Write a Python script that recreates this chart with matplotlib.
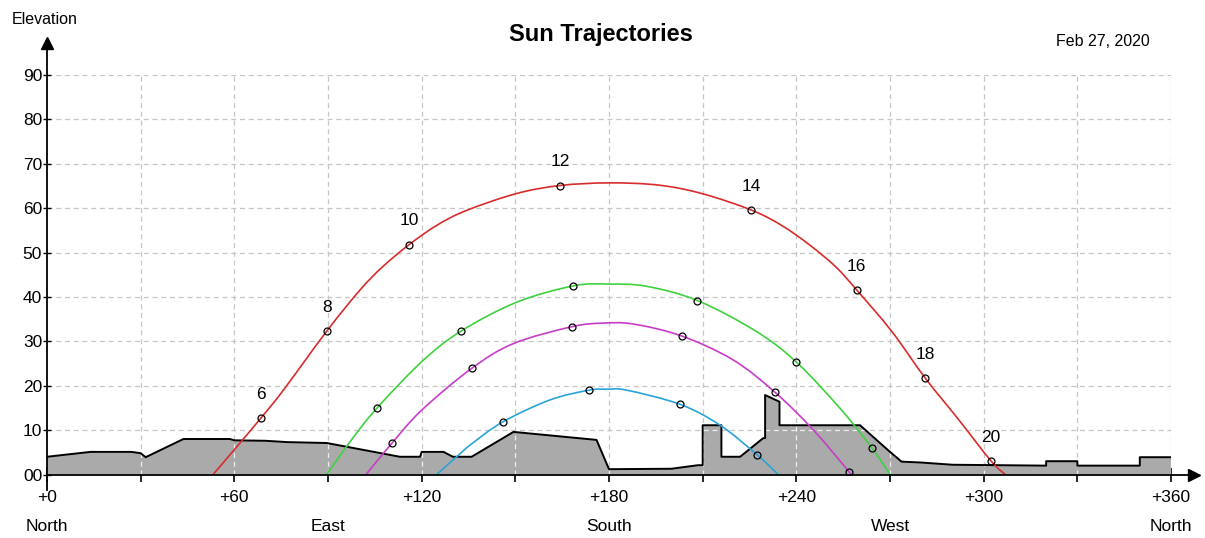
import numpy as np
import matplotlib
matplotlib.use('Agg')
import matplotlib.pyplot as plt
import matplotlib.transforms as mtransforms
from matplotlib.path import Path
from matplotlib.patches import PathPatch

plt.rcParams['font.family'] = ['Liberation Sans', 'DejaVu Sans']

# Horizon profile (azimuth in degrees, elevation in degrees)
horizon_az = [0, 14, 27, 30, 31.6, 43.7, 58.6, 60, 70, 77, 89.6, 113, 119.5, 120, 127, 130, 136,
              149.4, 176, 180, 200, 208.5, 210, 210, 216, 216, 222, 229.4, 230, 230, 234.6, 234.6,
              260.4, 270, 273.7, 280, 290, 320, 320, 330, 330, 350, 350, 360]
horizon_el = [4.0, 5.1, 5.1, 4.8, 3.9, 8.0, 8.0, 7.7, 7.6, 7.3, 7.1, 4.0, 4.0, 5.1, 5.1, 4.0, 4.0,
              9.6, 7.8, 1.2, 1.3, 2.1, 2.1, 11.1, 11.1, 4.0, 4.0, 8.2, 8.2, 17.9, 16.4, 11.1,
              11.1, 5.1, 2.9, 2.7, 2.2, 2.0, 3.0, 3.0, 2.0, 2.0, 3.9, 3.9]

# Sun paths
red_az = [53.2, 60.0, 68.5, 75.7, 89.6, 100.3, 107.5, 116.0, 125.0, 134.4, 150.4, 164.3,
          180.0, 195.8, 209.7, 225.5, 235.1, 244.1, 252.6, 259.3, 270.5, 281.3, 291.6, 302.3, 306.9]
red_el = [0.0, 5.6, 12.7, 19.0, 32.3, 41.6, 46.8, 51.8, 56.2, 59.5, 63.3, 65.1,
          65.7, 65.2, 63.3, 59.6, 56.2, 51.8, 46.8, 41.6, 32.3, 21.7, 12.7, 3.1, 0.0]
red_mark_az = [68.5, 89.6, 116.0, 164.3, 225.5, 259.3, 281.3, 302.3]
red_mark_el = [12.7, 32.3, 51.8, 65.1, 59.6, 41.6, 21.7, 3.1]
hour_labels = ['6', '8', '10', '12', '14', '16', '18', '20']

green_az = [89.6, 97.5, 105.6, 120.0, 132.6, 150.4, 168.6, 180.0, 192.0, 208.3, 227.0,
            239.9, 254.0, 264.3, 270.0]
green_el = [0.0, 7.8, 14.9, 25.4, 32.3, 38.8, 42.5, 42.9, 42.4, 39.2, 32.3,
            25.4, 14.9, 5.9, 0.0]
green_mark_az = [105.6, 132.6, 168.6, 208.3, 239.9, 264.3]
green_mark_el = [14.9, 32.3, 42.5, 39.2, 25.4, 5.9]

magenta_az = [102.2, 110.4, 120.0, 136.0, 149.4, 168.1, 178.0, 187.8, 203.3, 219.8, 233.2,
              245.5, 256.9, 257.5]
magenta_el = [0.0, 7.0, 14.5, 23.9, 29.5, 33.3, 34.1, 33.9, 31.2, 25.8, 18.5,
              10.0, 0.6, 0.0]
magenta_mark_az = [110.4, 136.0, 168.1, 203.3, 233.2, 256.9]
magenta_mark_el = [7.0, 23.9, 33.3, 31.2, 18.5, 0.6]

cyan_az = [124.8, 131.2, 136.0, 146.1, 161.1, 173.6, 179.5, 185.7, 202.8, 215.6, 227.5, 234.2]
cyan_el = [0.0, 4.0, 6.9, 11.9, 16.8, 19.0, 19.2, 19.0, 15.8, 11.1, 4.4, 0.0]
cyan_mark_az = [146.1, 173.6, 202.8, 227.5]
cyan_mark_el = [11.9, 19.0, 15.8, 4.4]

# Axis labels
x_ticks = list(range(0, 361, 30))
x_tick_labels = ['+0', '', '+60', '', '+120', '', '+180', '', '+240', '', '+300', '', '+360']
y_ticks = list(range(0, 91, 10))
y_tick_labels = ['00', '10', '20', '30', '40', '50', '60', '70', '80', '90']
direction_az = [0, 90, 180, 270, 360]
direction_names = ['North', 'East', 'South', 'West', 'North']


def smooth_path(xs, ys):
    """Bezier path passing through the read points (drawn by matplotlib)"""
    pts = np.column_stack([xs, ys])
    verts = [pts[0]]
    codes = [Path.MOVETO]
    n = len(pts)
    for i in range(n - 1):
        p0 = pts[i - 1] if i > 0 else pts[i]
        p1 = pts[i]
        p2 = pts[i + 1]
        p3 = pts[i + 2] if i + 2 < n else pts[i + 1]
        verts += [p1 + (p2 - p0) / 6, p2 - (p3 - p1) / 6, p2]
        codes += [Path.CURVE4] * 3
    return Path(verts, codes)


def draw_chart():
    fig = plt.figure(figsize=(12.05, 5.38), dpi=100)
    ax = fig.add_axes([0.0390, 0.1180, 0.9328, 0.7426])
    ax.set_xlim(0, 360)
    ax.set_ylim(0, 90)
    for spine in ax.spines.values():
        spine.set_visible(False)

    dash = (0, (4, 3))
    # Dashed grid, light grey outside the horizon
    for gx in x_ticks[1:]:
        ax.axvline(gx, color='#c6c6c6', ls=dash, lw=0.9, zorder=1)
    for gy in y_ticks[1:]:
        ax.axhline(gy, color='#c6c6c6', ls=dash, lw=0.9, zorder=1)

    # Horizon mask
    poly = ax.fill(horizon_az + [360, 0], horizon_el + [0, 0], color='#aaaaaa', lw=0, zorder=2)[0]
    ax.plot(horizon_az, horizon_el, color='black', lw=1.4, zorder=3)

    # grid shows up whitish inside the horizon
    grid_lines = []
    for gx in x_ticks[1:]:
        grid_lines.append(ax.axvline(gx, color='#eeeeee', ls=dash, lw=0.9, zorder=2.5))
    for gy in y_ticks[1:]:
        grid_lines.append(ax.axhline(gy, color='#eeeeee', ls=dash, lw=0.9, zorder=2.5))
    for line in grid_lines:
        line.set_clip_path(poly)

    # Sun trajectories
    paths = [
        (red_az, red_el, red_mark_az, red_mark_el, '#d82c2c'),
        (green_az, green_el, green_mark_az, green_mark_el, '#3ed23e'),
        (magenta_az, magenta_el, magenta_mark_az, magenta_mark_el, '#c83cc8'),
        (cyan_az, cyan_el, cyan_mark_az, cyan_mark_el, '#2aa4d6'),
    ]
    for az, el, maz, mel, col in paths:
        ax.add_patch(PathPatch(smooth_path(az, el), fill=False, edgecolor=col, lw=1.2, zorder=4))
        ax.plot(maz, mel, ls='none', marker='o', ms=5, mfc='none', mec='black', mew=0.9, zorder=5)

    for az, el, lbl in zip(red_mark_az, red_mark_el, hour_labels):
        ax.annotate(lbl, (az, el), xytext=(0, 17), textcoords='offset points',
                    ha='center', va='center', fontsize=12.5)

    # Axes with arrows
    ax.plot([0, 0], [-3.6, 96], color='black', lw=1.3, clip_on=False, zorder=6)
    ax.plot([0], [97.1], marker='^', color='black', ms=9, clip_on=False, zorder=6)
    ax.plot([0, 366], [0, 0], color='black', lw=1.3, clip_on=False, zorder=6)
    ax.plot([367.4], [0], marker='>', color='black', ms=9, clip_on=False, zorder=6)

    ax.set_xticks(x_ticks)
    ax.set_xticklabels(x_tick_labels, fontsize=12.5)
    ax.set_yticks(y_ticks)
    ax.set_yticklabels(y_tick_labels, fontsize=12.5)
    ax.tick_params(axis='x', direction='inout', length=10, width=1.2, pad=6)
    ax.tick_params(axis='y', direction='inout', length=6, width=1.0, pad=0.5)

    trans = mtransforms.blended_transform_factory(ax.transData, ax.transAxes)
    for az, name in zip(direction_az, direction_names):
        ax.text(az, -0.131, name, transform=trans, ha='center', va='center', fontsize=12.5)

    fig.text(601 / 1205, 1 - 35 / 538, 'Sun Trajectories', ha='center', va='center',
             fontsize=17, fontweight='bold')
    fig.text(1103 / 1205, 1 - 42 / 538, 'Feb 27, 2020', ha='center', va='center', fontsize=11.5)
    fig.text(12 / 1205, 1 - 20 / 538, 'Elevation', ha='left', va='center', fontsize=11.5)

    fig.savefig('out.png', dpi=100)
    print("Saved out.png")


if __name__ == "__main__":
    draw_chart()
